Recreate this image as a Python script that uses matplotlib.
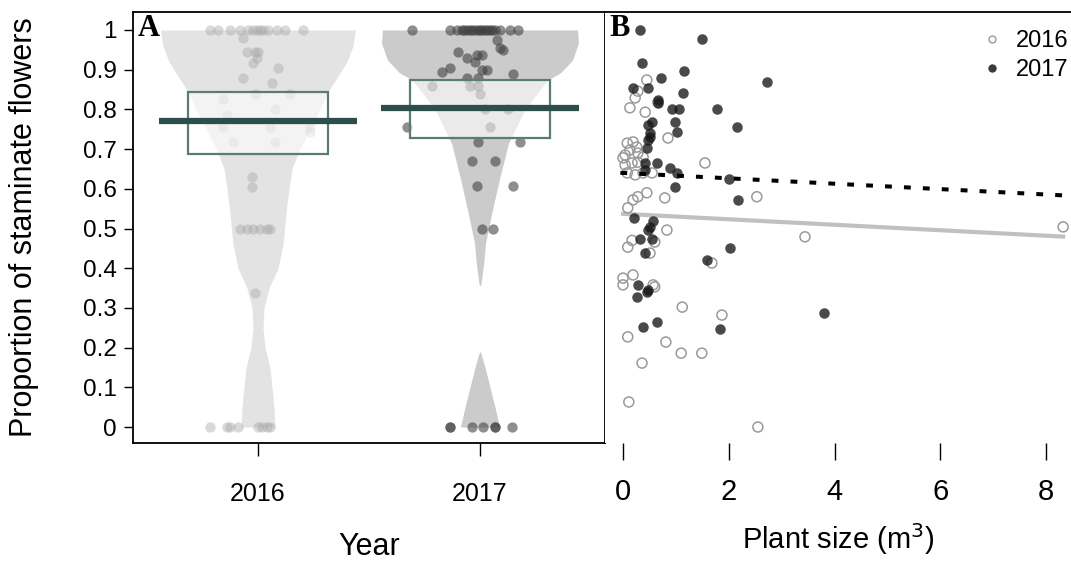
import matplotlib
matplotlib.use("Agg")
import matplotlib.pyplot as plt
import numpy as np
from matplotlib.lines import Line2D

plt.rcParams['font.family'] = ['Liberation Sans', 'DejaVu Sans']

# ---- Panel A: proportion of staminate flowers by year ----
years = ["2016", "2017"]
box_q1 = [0.688, 0.728]
box_median = [0.771, 0.804]
box_q3 = [0.844, 0.874]

# violin outline: levels and half widths (pixels at 222 px per year unit)
lev_2016 = [0, 0.05, 0.1, 0.15, 0.2, 0.25, 0.3, 0.35, 0.4, 0.46, 0.55, 0.6, 0.65,
            0.69, 0.75, 0.8, 0.845, 0.88, 0.92, 0.96, 1.0]
hw_2016 = [17, 16, 14, 12, 7, 5, 6, 11, 20, 25, 28.5, 31, 34,
           40, 52, 62, 70, 79, 89, 95, 97.5]
lev_2017 = [0, 0.05, 0.1, 0.15, 0.186, 0.19, 0.355, 0.36, 0.42, 0.463, 0.547, 0.63,
            0.715, 0.8, 0.874, 0.892, 0.924, 0.967, 1.0]
hw_2017 = [19.5, 15, 10, 5, 1, 0, 0, 1, 4, 5.5, 12.5, 20,
           28.5, 45, 67.5, 80.5, 92.5, 98.5, 97.5]

# jittered points: (offset from year centre, proportion)
pts_2016_dx = [-0.216, -0.180, -0.126, -0.081, -0.045, -0.023, -0.005, 0.009, 0.023, 0.045, 0.086, 0.122, 0.203,
               -0.068, -0.05, -0.014, 0.0, -0.005, -0.023, 0.09, -0.068, 0.063, -0.014, 0.144, -0.158,
               0.077, -0.14, -0.158, 0.054, 0.234, 0.234, -0.113, 0.077, -0.027, -0.027,
               -0.081, -0.05, -0.023, 0.009, 0.041, 0.054, -0.014,
               -0.216, -0.14, -0.126, -0.09, 0.0, 0.018, 0.041, 0.054]
pts_2016_y = [1, 1, 1, 1, 1, 1, 1, 1, 1, 1, 1, 1, 1,
              0.98, 0.945, 0.945, 0.945, 0.93, 0.917, 0.905, 0.88, 0.867, 0.84, 0.84, 0.825,
              0.80, 0.785, 0.756, 0.756, 0.756, 0.743, 0.718, 0.718, 0.63, 0.605,
              0.5, 0.5, 0.5, 0.5, 0.5, 0.5, 0.337,
              0, 0, 0, 0, 0, 0, 0, 0]
pts_2017_dx = [-0.306, -0.135, -0.104, -0.081, -0.059, -0.036, -0.023, 0.0, 0.023, 0.045, 0.068, 0.09, 0.135, 0.171,
               -0.07, -0.045, -0.01, 0.01, 0.03, 0.055,
               0.077, 0.104, 0.09, -0.099, -0.014, 0.009, -0.059, -0.023, -0.135, 0.009, 0.032,
               -0.171, 0.149, -0.059, -0.009, -0.216, -0.045, -0.009, 0.0, 0.023, 0.126,
               -0.329, 0.045, -0.009, 0.18, -0.036, 0.068, -0.014, 0.149, 0.009, 0.059,
               -0.135, -0.135, -0.036, 0.014, 0.068, 0.068, 0.144]
pts_2017_y = [1, 1, 1, 1, 1, 1, 1, 1, 1, 1, 1, 1, 1, 1,
              1, 1, 1, 1, 1, 1,
              0.975, 0.95, 0.955, 0.945, 0.937, 0.937, 0.93, 0.92, 0.905, 0.9, 0.9,
              0.895, 0.89, 0.88, 0.88, 0.86, 0.86, 0.86, 0.84, 0.80, 0.80,
              0.755, 0.755, 0.718, 0.718, 0.67, 0.67, 0.607, 0.607, 0.5, 0.5,
              0, 0, 0, 0, 0, 0, 0]

# ---- Panel B: proportion vs plant size ----
size_2016 = [0.45, 0.28, 0.23, 0.13, 0.42, 0.85, 0.66,
             0.08, 0.19, 0.26, 0.13, 0.04, 0.28, 0.38,
             0.04, 0.17, 0.28, 0.23, 0.38, 0.55, 0.08, 0.0,
             1.55, 0.79, 0.45, 0.28, 0.19, 0.09, 0.83, 0.17, 0.09, 0.6, 0.51, 1.68,
             0.0, 0.19, 0.0, 0.57, 0.6, 1.12, 0.09, 0.81, 1.1, 1.49, 0.36, 0.11,
             2.53, 3.44, 1.87, 2.55, 8.32]
prop_2016 = [0.874, 0.846, 0.829, 0.804, 0.793, 0.728, 0.818,
             0.715, 0.718, 0.705, 0.698, 0.685, 0.69, 0.68,
             0.66, 0.665, 0.667, 0.635, 0.64, 0.64, 0.64, 0.678,
             0.665, 0.577, 0.59, 0.58, 0.572, 0.552, 0.496, 0.47, 0.453, 0.466, 0.438, 0.413,
             0.375, 0.383, 0.358, 0.358, 0.353, 0.302, 0.227, 0.214, 0.186, 0.186, 0.161, 0.063,
             0.58, 0.479, 0.282, 0.0, 0.504]
size_2017 = [0.32, 1.49, 0.36, 1.15, 0.72, 0.19, 0.47, 1.13, 0.66, 0.66, 0.93, 1.06, 1.78,
             0.55, 0.98, 0.47, 0.51, 0.51, 1.02, 0.47, 0.45, 0.42, 0.64, 0.42, 0.89, 1.02, 0.98,
             0.21, 0.57, 0.51, 0.47, 0.32, 0.55, 0.42, 1.59, 0.28, 0.47, 0.26, 0.45, 0.38, 0.64,
             2.72, 2.15, 2.0, 2.17, 2.02, 1.83, 3.80]
prop_2017 = [1.0, 0.977, 0.917, 0.897, 0.879, 0.854, 0.854, 0.841, 0.824, 0.816, 0.80, 0.80, 0.80,
             0.768, 0.768, 0.76, 0.74, 0.73, 0.743, 0.723, 0.703, 0.665, 0.665, 0.647, 0.652, 0.64, 0.605,
             0.526, 0.52, 0.504, 0.496, 0.473, 0.473, 0.438, 0.42, 0.358, 0.345, 0.327, 0.34, 0.252, 0.264,
             0.869, 0.756, 0.625, 0.572, 0.45, 0.247, 0.287]

# fitted lines: intercept, slope, x range
fit_2016 = (0.537, -0.0069, 0.0, 8.32)
fit_2017 = (0.640, -0.0068, -0.05, 8.32)

W, H = 1071, 561
fig = plt.figure(figsize=(W / 100, H / 100), dpi=100)
axA = fig.add_axes([133 / W, 1 - 443 / H, (605 - 133) / W, (443 - 12) / H])
axB = fig.add_axes([605 / W, 1 - 443 / H, (1071 - 605) / W, (443 - 12) / H])

px_per_unit = 222.0
ylo, yhi = -(443 - 427) / 397.0, 1 + (30 - 12) / 397.0

# violins
for i, (lev, hw, col) in enumerate([(lev_2016, hw_2016, "#e3e3e3"), (lev_2017, hw_2017, "#cbcbcb")]):
    c = i + 1
    w = np.array(hw) / px_per_unit
    axA.fill_betweenx(lev, c - w, c + w, color=col, linewidth=0, zorder=1)

# points
axA.scatter(1 + np.array(pts_2016_dx), pts_2016_y, s=55, color="#a7a7a7", alpha=0.43,
            linewidths=0, zorder=2)
axA.scatter(2 + np.array(pts_2017_dx), pts_2017_y, s=55, color="#3f3f3f", alpha=0.58,
            linewidths=0, zorder=2)

# boxes and medians
box_hw = 70 / px_per_unit
med_hw = 99 / px_per_unit
for i in range(2):
    c = i + 1
    axA.add_patch(plt.Rectangle((c - box_hw, box_q1[i]), 2 * box_hw, box_q3[i] - box_q1[i],
                                facecolor=(1, 1, 1, 0.6), edgecolor="#5b7b78", linewidth=1.6, zorder=3))
    axA.plot([c - med_hw, c + med_hw], [box_median[i]] * 2, color="#2e4e4b", linewidth=4.5,
             solid_capstyle="butt", zorder=4)

axA.set_xlim(1 - 125 / px_per_unit, 2 + 125 / px_per_unit)
axA.set_ylim(ylo, yhi)
axA.set_xticks([1, 2])
axA.set_xticklabels(years, fontsize=18)
axA.set_yticks(np.arange(0, 1.01, 0.1))
axA.set_yticklabels(["0"] + ["%.1f" % v for v in np.arange(0.1, 0.95, 0.1)] + ["1"], fontsize=17.5)
axA.tick_params(axis="y", length=6.5, width=1.0, pad=5)
axA.tick_params(axis="x", length=9, width=1.0, pad=19)
axA.set_ylabel("Proportion of staminate flowers", fontsize=22, labelpad=32)
axA.set_xlabel("Year", fontsize=22, labelpad=19)
for sp in axA.spines.values():
    sp.set_linewidth(1.3)
axA.text(0.01, 0.995, "A", transform=axA.transAxes, ha="left", va="top",
         fontsize=22, fontweight="bold", family="Liberation Serif")

# Panel B
axB.scatter(size_2016, prop_2016, s=52, facecolors="none", edgecolors="#9a9a9a",
            linewidths=1.1, zorder=2)
axB.scatter(size_2017, prop_2017, s=57, color="#171717", alpha=0.78, linewidths=0, zorder=3)

a, b, x0, x1 = fit_2016
xs = np.array([x0, x1])
axB.plot(xs, a + b * xs, color="#c0c0c0", linewidth=3, zorder=1)
a, b, x0, x1 = fit_2017
xs = np.array([x0, x1])
axB.plot(xs, a + b * xs, color="black", linewidth=2.9, linestyle=(0, (1.7, 3.0)), zorder=4)

axB.set_xlim((605 - 623) / 52.9, (1071 - 623) / 52.9)
axB.set_ylim(ylo, yhi)
axB.set_xticks([0, 2, 4, 6, 8])
axB.tick_params(axis="x", length=12, width=1.0, pad=13, labelsize=21)
axB.set_yticks([])
axB.spines["bottom"].set_visible(False)
axB.spines["right"].set_visible(False)
axB.spines["left"].set_visible(False)
axB.spines["top"].set_linewidth(1.3)
axB.set_xlabel("Plant size (m$^3$)", fontsize=21, labelpad=11)
axB.text(0.01, 0.995, "B", transform=axB.transAxes, ha="left", va="top",
         fontsize=22, fontweight="bold", family="Liberation Serif")

handles = [Line2D([], [], linestyle="none", marker="o", markersize=5, markerfacecolor="none",
                  markeredgecolor="#9a9a9a", markeredgewidth=1.0, label="2016"),
           Line2D([], [], linestyle="none", marker="o", markersize=5, markerfacecolor="#3a3a3a",
                  markeredgecolor="#3a3a3a", label="2017")]
axB.legend(handles=handles, loc="upper right", bbox_to_anchor=(1.02, 0.985), frameon=False,
           fontsize=17, handlelength=1.0, handletextpad=0.5, labelspacing=0.3, borderaxespad=0.1)

fig.savefig("out.png", dpi=100)
